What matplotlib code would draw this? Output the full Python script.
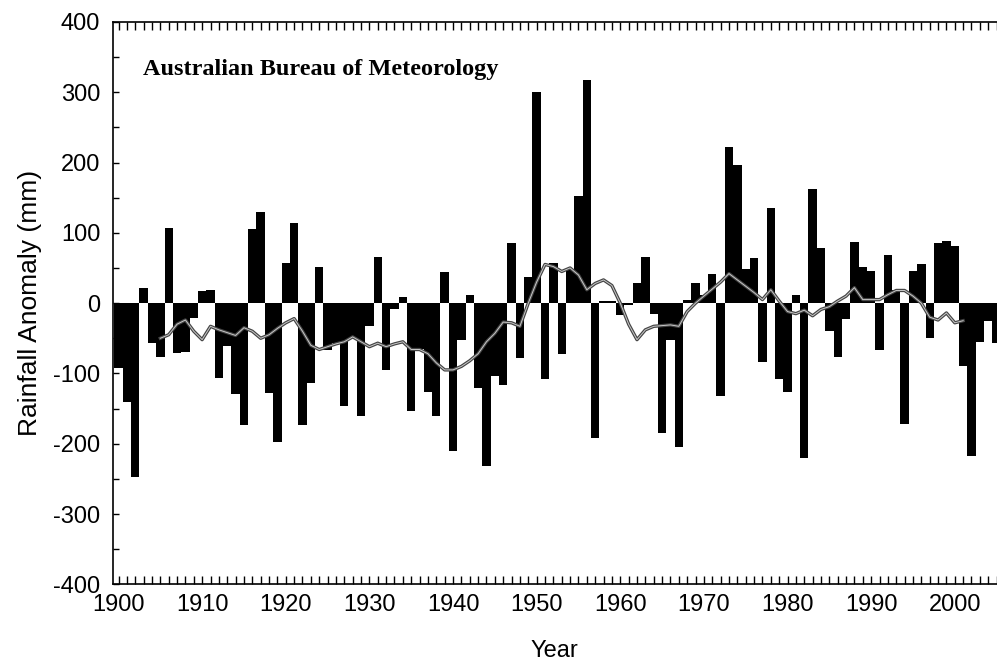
import matplotlib
matplotlib.use("Agg")
from matplotlib import pyplot as plt
from matplotlib.ticker import MultipleLocator
import numpy as np

plt.rcParams["font.family"] = ["Liberation Sans", "DejaVu Sans"]
plt.rcParams["axes.unicode_minus"] = False

# Annual rainfall anomaly (mm), 1900-2005.
years = np.arange(1900, 2006)
anomaly = [
    -92, -140, -247, 21, -57, -76, 107, -71, -70, -21,      # 1900s
    17, 18, -107, -61, -129, -173, 105, 130, -128, -197,    # 1910s
    57, 114, -173, -114, 52, -66, -57, -147, -50, -161,     # 1920s
    -33, 66, -95, -8, 8, -154, -65, -126, -161, 44,         # 1930s
    -211, -52, 12, -121, -232, -104, -116, 86, -78, 37,     # 1940s
    300, -108, 57, -73, 47, 153, 317, -192, 3, 3,           # 1950s
    -17, -3, 28, 66, -15, -185, -52, -204, 5, 28,           # 1960s
    12, 42, -132, 222, 197, 49, 64, -84, 136, -108,         # 1970s
    -127, 11, -220, 162, 79, -39, -77, -23, 87, 51,         # 1980s
    45, -66, 68, 19, -172, 45, 56, -50, 85, 89,             # 1990s
    81, -89, -217, -55, -26, -57,                           # 2000s
]

# Smoothed curve.
smooth_years = np.arange(1905, 2002)
smooth = [
    -50, -45, -30, -24, -40, -52, -33, -38, -42, -46,
    -35, -40, -50, -45, -36, -28, -22, -40, -60, -66,
    -62, -58, -55, -48, -55, -62, -57, -62, -58, -55,
    -66, -66, -72, -85, -95, -95, -90, -82, -72, -55,
    -43, -27, -28, -33, 0, 30, 55, 52, 45, 50,
    40, 19, 28, 33, 25, 0, -30, -52, -38, -33,
    -32, -31, -33, -12, 0, 10, 20, 30, 42, 33,
    24, 15, 5, 19, 3, -12, -15, -10, -18, -9,
    -5, 3, 10, 22, 5, 5, 5, 12, 18, 18,
    10, 0, -20, -24, -14, -28, -25,
]

fig = plt.figure(figsize=(9.97, 6.64), dpi=100)
ax = fig.add_axes([0.113, 0.12, 0.887, 0.847])

ax.bar(years, anomaly, width=1.0, color="black", linewidth=0, zorder=2)
ax.plot(smooth_years, smooth, color="#444444", lw=2.4, zorder=3)
ax.plot(smooth_years, smooth, color="#c8c8c8", lw=0.7, zorder=4)

ax.set_xlim(1899.3, 2005.05)
ax.set_ylim(-400, 400)

ax.xaxis.set_major_locator(MultipleLocator(10))
ax.xaxis.set_minor_locator(MultipleLocator(1))
ax.yaxis.set_major_locator(MultipleLocator(100))
ax.yaxis.set_minor_locator(MultipleLocator(50))

ax.tick_params(axis="x", which="both", direction="in", top=True, bottom=True,
               length=6, width=1, pad=7, labelsize=17)
ax.tick_params(axis="y", which="both", direction="in", left=True, right=False,
               length=4, width=1, pad=9, labelsize=17)
ax.spines["right"].set_visible(False)
for s in ["left", "top", "bottom"]:
    ax.spines[s].set_linewidth(1.2)

ax.set_xlabel("Year", fontsize=17, labelpad=17)
ax.set_ylabel("Rainfall Anomaly (mm)", fontsize=19, labelpad=8)

ax.text(0.034, 0.915, "Australian Bureau of Meteorology", transform=ax.transAxes,
        fontsize=17.5, fontweight="bold", family="Liberation Serif", va="center")

fig.savefig("out.png", dpi=100)
